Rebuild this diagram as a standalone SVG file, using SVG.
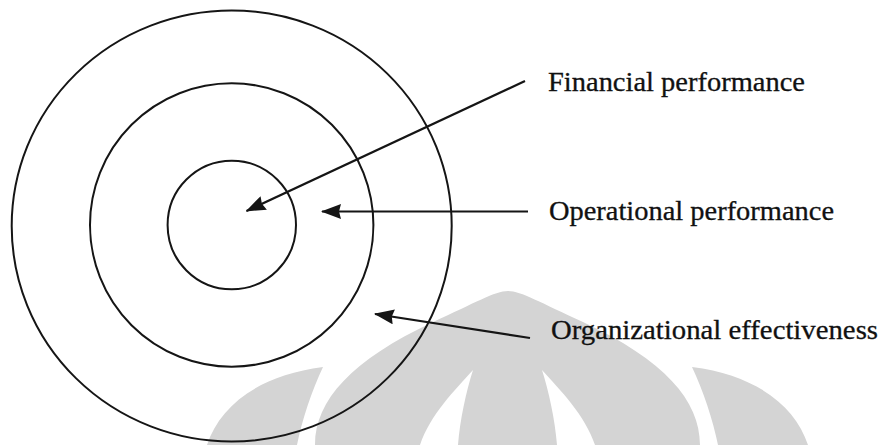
<svg xmlns="http://www.w3.org/2000/svg" width="882" height="445" viewBox="0 0 882 445">
  <style>
    .ring { fill: none; stroke: #151515; stroke-width: 2; }
    .conn { stroke: #151515; stroke-width: 2.2; fill: none; marker-end: url(#arrow); }
    .label { font-family: "Liberation Serif", "Times New Roman", serif; font-size: 27px; fill: #111; stroke: #111; stroke-width: 0.3; }
    .wm { fill: #d4d4d4; }
    .wmgap { fill: #ffffff; }
  </style>
  <defs>
    <marker id="arrow" viewBox="0 0 20 15" refX="19" refY="7.5" markerWidth="20" markerHeight="15" markerUnits="userSpaceOnUse" orient="auto">
      <path d="M0,0 L20,7.5 L0,15 L2,7.5 Z" fill="#151515"/>
    </marker>
  </defs>
  <rect width="882" height="445" fill="#ffffff"/>

  <g id="watermark">
    <path class="wm" d="M207 445 C220 405 260 375 323 367 C312 390 302 420 297 445 Z"/>
    <path class="wm" d="M315 445 C315 400 352 360 433 322 C475 303 495 291 508 291 C521 291 541 303 583 322 C664 360 700 400 700 445 Z"/>
    <path class="wm" d="M808 445 C795 405 755 375 692 367 C703 390 713 420 718 445 Z"/>
    <path class="wmgap" d="M473 370 C455 390 430 415 420 445 L458 445 C460 420 466 392 473 370 Z"/>
    <path class="wmgap" d="M542 370 C560 390 585 415 595 445 L557 445 C555 420 549 392 542 370 Z"/>
  </g>

  <g id="organizational-effectiveness-ring">
    <ellipse class="ring" cx="231.7" cy="226" rx="220" ry="215.5"/>
  </g>
  <g id="operational-performance-ring">
    <ellipse class="ring" cx="231.7" cy="225" rx="141.7" ry="141.7"/>
  </g>
  <g id="financial-performance-ring">
    <ellipse class="ring" cx="231.8" cy="225" rx="64.2" ry="64.3"/>
  </g>

  <g id="connectors">
    <line class="conn" x1="525" y1="81" x2="246.5" y2="211"/>
    <line class="conn" x1="528" y1="211.5" x2="322" y2="211.5"/>
    <line class="conn" x1="530" y1="338" x2="375" y2="314"/>
  </g>

  <g id="label-financial">
    <text class="label" x="548" y="90.5" textLength="257" lengthAdjust="spacingAndGlyphs">Financial performance</text>
  </g>
  <g id="label-operational">
    <text class="label" x="549" y="220" textLength="285" lengthAdjust="spacingAndGlyphs">Operational performance</text>
  </g>
  <g id="label-organizational">
    <text class="label" x="551" y="339" textLength="327" lengthAdjust="spacingAndGlyphs">Organizational effectiveness</text>
  </g>
</svg>
